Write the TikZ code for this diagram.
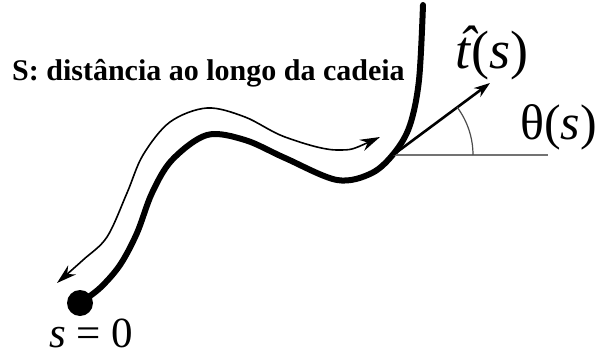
\documentclass[tikz,border=0pt]{standalone}
\usepackage{fontspec}
\setmainfont{Liberation Serif}
\usepackage{tikz}
\usetikzlibrary{arrows.meta}
\tikzset{
    chainline/.style={line width=6pt, line cap=round, line join=round},
    pathline/.style={line width=1.6pt, {Stealth[length=20pt,width=12pt]}-{Stealth[length=20pt,width=12pt]}},
    tangentvec/.style={line width=2.6pt, -{Stealth[length=16pt,width=11pt]}},
    refline/.style={line width=1.4pt, black!55},
    anglearc/.style={line width=1.2pt, black!70},
    chaindot/.style={circle, fill=black, minimum size=26pt, inner sep=0pt},
    symlabel/.style={inner sep=0pt},
}
\newcommand{\hatt}{\textit{\rlap{\hspace{0.06em}\raisebox{0.1em}{\char"02C6}}t}}

\begin{document}
\begin{tikzpicture}[x=1pt,y=-1pt]
  \useasboundingbox (0,0) rectangle (600,356);
  % the chain, starting at s=0
  \node[chaindot] (origin) at (80,303) {};
  \draw[chainline] plot[smooth, tension=0.55] coordinates {
    (80,303) (100,288) (120,265) (137,233) (152,193) (172,160) (207,135)
    (245,140) (285,158) (337,180) (372,173) (395,152) (410,125) (419,80) (423,5)};
  % arc length along the chain
  \draw[pathline] plot[smooth, tension=0.55] coordinates {
    (380,137) (337,150) (285,137) (245,117) (207,108) (170,122) (143,155)
    (127,193) (107,237) (83,260) (57,283)};
  % tangent vector and angle
  \coordinate (contact) at (393,155);
  \coordinate (ttip) at (490,83);
  \coordinate (hend) at (548,155);
  \draw[refline] (contact) -- (hend);
  \draw[tangentvec] (contact) -- (ttip);
  \draw[anglearc] ([xshift=80pt]contact) arc[start angle=0, end angle=36.6, radius=80pt];
  % LABELS
  \node[symlabel, anchor=base west, font=\bfseries\fontsize{30}{34}\selectfont]
    (title) at (12,80) {S: distância ao longo da cadeia};
  \node[symlabel, font=\fontsize{54}{60}\selectfont] (tlabel) at (492,53)
    {\hatt(\textit{s})};
  \node[symlabel, anchor=west, font=\fontsize{50}{56}\selectfont] (thetalabel) at (520,127)
    {θ(\textit{s})};
  \node[symlabel, anchor=base, font=\fontsize{43}{48}\selectfont] (zerolabel) at (91,347)
    {\textit{s} = 0};
\end{tikzpicture}
\end{document}
